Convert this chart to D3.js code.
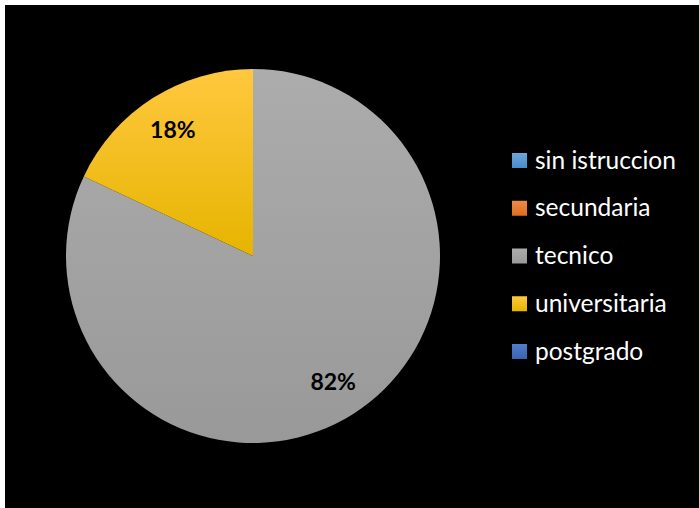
<!DOCTYPE html>
<html><head><meta charset="utf-8">
<script src="https://cdn.jsdelivr.net/npm/d3@7"></script>
<style>html,body{margin:0;padding:0;background:#fff;}</style>
</head><body>
<svg id="chart" width="699" height="508"></svg>
<script>
const categories = ["sin istruccion", "secundaria", "tecnico", "universitaria", "postgrado"];
const values = [0, 0, 82, 18, 0];
const gradTop = ["#6AA7DE", "#F08A45", "#ACACAC", "#FFC83F", "#4F7ECC"];
const gradBot = ["#4A8BC8", "#DD6E22", "#999999", "#E6B400", "#3A64B0"];

const svg = d3.select("#chart");
svg.append("rect").attr("x",5).attr("y",5).attr("width",694).attr("height",503).attr("fill","#000");

const cx = 253, cy = 256, R = 187;
const defs = svg.append("defs");
categories.forEach((c,i)=>{
  const g = defs.append("linearGradient").attr("id","g"+i)
    .attr("gradientUnits","userSpaceOnUse")
    .attr("x1",0).attr("y1",-R).attr("x2",0).attr("y2",R);
  g.append("stop").attr("offset","0%").attr("stop-color",gradTop[i]);
  g.append("stop").attr("offset","100%").attr("stop-color",gradBot[i]);
});
defs.select("#g3").attr("y2", 0);

const pie = d3.pie().sort(null).value(d=>d);
const arcs = pie(values);
const arc = d3.arc().innerRadius(0).outerRadius(R);
const labelArc = d3.arc().innerRadius(R*0.8).outerRadius(R*0.8);

const g = svg.append("g").attr("transform",`translate(${cx},${cy})`);
g.selectAll("path").data(arcs.filter(a=>a.data>0)).join("path")
  .attr("d",arc)
  .attr("fill",(d)=>`url(#g${d.index})`);

const total = d3.sum(values);
g.selectAll("text.lbl").data(arcs.filter(a=>a.data>0)).join("text")
  .attr("class","lbl")
  .attr("transform",d=>`translate(${labelArc.centroid(d)})`)
  .attr("text-anchor","middle").attr("dy","0.35em")
  .attr("font-family","Lato, 'Open Sans', sans-serif").attr("font-weight","bold")
  .attr("font-size",23).attr("fill","#000")
  .text(d=>Math.round(d.data/total*100)+"%");

const leg = svg.append("g");
const ly = d3.scalePoint().domain(categories).range([160,351]);
categories.forEach((c,i)=>{
  const lg = defs.append("linearGradient").attr("id","lg"+i).attr("x1",0).attr("y1",0).attr("x2",0).attr("y2",1);
  lg.append("stop").attr("offset","0%").attr("stop-color",gradTop[i]);
  lg.append("stop").attr("offset","100%").attr("stop-color",gradBot[i]);
  leg.append("rect").attr("x",512).attr("y",ly(c)-7).attr("width",15).attr("height",15)
    .attr("fill",`url(#lg${i})`);
  leg.append("text").attr("x",535).attr("y",ly(c)).attr("dy","0.35em")
    .attr("font-family","Lato, 'Open Sans', sans-serif").attr("font-size",24.5).attr("fill","#fff")
    .text(c);
});
</script>
</body></html>
